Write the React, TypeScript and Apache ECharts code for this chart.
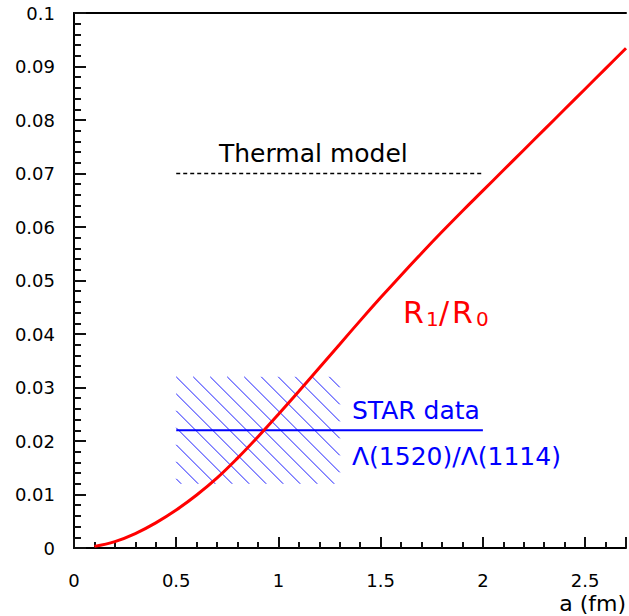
import React, { useEffect, useRef } from "react";
import * as echarts from "echarts";

// ---- data ----
const A_VALUES = [
  0.1, 0.2, 0.3, 0.4, 0.5, 0.6, 0.7, 0.8, 0.9, 1.0, 1.1, 1.2, 1.3, 1.4,
  1.5, 1.6, 1.7, 1.8, 1.9, 2.0, 2.1, 2.2, 2.3, 2.4, 2.5, 2.6, 2.7,
];
const R1_R0 = [
  0.0003, 0.0012, 0.0027, 0.0047, 0.0071, 0.0099, 0.0131, 0.0168, 0.0208,
  0.025, 0.0293, 0.0337, 0.0381, 0.0425, 0.0468, 0.051, 0.0551, 0.0591,
  0.063, 0.0668, 0.0706, 0.0744, 0.0782, 0.082, 0.0858, 0.0896, 0.0934,
];
const THERMAL_X = [0.5, 2.0];
const THERMAL_Y = 0.07;
const STAR_X = [0.5, 2.0];
const STAR_Y = 0.022;
const STAR_BAND_X = [0.5, 1.3];
const STAR_BAND_Y = [0.012, 0.032];

const X_MIN = 0;
const X_MAX = 2.7;
const X_MAJOR = 0.5;
const Y_MIN = 0;
const Y_MAX = 0.1;
const Y_MAJOR = 0.01;

const FONT = "DejaVu Sans";
const BLUE = "#0000ff";
const RED = "#ff0000";

export default function App() {
  const ref = useRef<HTMLDivElement>(null);

  useEffect(() => {
    document.body.style.margin = "0";
    const chart = echarts.init(ref.current!, null, { renderer: "svg" });

    const hatchRender = (params: any, api: any) => {
      const tl = api.coord([api.value(0), api.value(3)]);
      const br = api.coord([api.value(1), api.value(2)]);
      const x0 = tl[0], y0 = tl[1], x1 = br[0], y1 = br[1];
      const step = 17;
      const base = y0 - x0;
      const children: any[] = [];
      const cMin = y0 - x1;
      const cMax = y1 - x0;
      const kMin = Math.ceil((cMin - base) / step);
      const kMax = Math.floor((cMax - base) / step);
      for (let k = kMin; k <= kMax; k++) {
        const c = base + k * step;
        const xs = Math.max(x0, y0 - c);
        const xe = Math.min(x1, y1 - c);
        if (xe - xs < 1) continue;
        children.push({
          type: "line",
          shape: { x1: xs, y1: xs + c, x2: xe, y2: xe + c },
          style: { stroke: "#1f1fff", lineWidth: 1 },
        });
      }
      return { type: "group", children };
    };

    const tickStyle = { color: "#111", width: 2 };

    const option: any = {
      animation: false,
      grid: { left: 74, right: 0, top: 13, bottom: 68 },
      xAxis: [
        {
          type: "value",
          min: X_MIN,
          max: X_MAX,
          interval: X_MAJOR,
          axisLine: { show: true, onZero: false, lineStyle: { color: "#000", width: 2 } },
          axisTick: { show: true, inside: true, length: 11, lineStyle: tickStyle },
          minorTick: { show: true, splitNumber: 5, length: 6, lineStyle: tickStyle },
          splitLine: { show: false },
          axisLabel: {
            margin: 23,
            fontFamily: FONT,
            fontSize: 18,
            color: "#000",
            formatter: (v: number) => {
              const r = Math.round(v * 10) / 10;
              if (Math.abs(r * 2 - Math.round(r * 2)) > 1e-6) return "";
              return String(r);
            },
          },
        },
        {
          type: "value",
          position: "top",
          min: X_MIN,
          max: X_MAX,
          interval: X_MAJOR,
          axisLine: { show: true, onZero: false, lineStyle: { color: "#000", width: 2 } },
          axisTick: { show: false },
          minorTick: { show: false },
          axisLabel: { show: false },
          splitLine: { show: false },
        },
      ],
      yAxis: {
        type: "value",
        min: Y_MIN,
        max: Y_MAX,
        interval: Y_MAJOR,
        axisLine: { show: true, onZero: false, lineStyle: { color: "#000", width: 2 } },
        axisTick: { show: true, inside: true, length: 12, lineStyle: tickStyle },
        minorTick: { show: true, splitNumber: 5, length: 7, lineStyle: tickStyle },
        splitLine: { show: false },
        axisLabel: {
          margin: 19,
          fontFamily: FONT,
          fontSize: 18,
          color: "#000",
          formatter: (v: number) => String(Math.round(v * 1000) / 1000),
        },
      },
      series: [
        {
          type: "custom",
          silent: true,
          renderItem: hatchRender,
          encode: { x: [0, 1], y: [2, 3] },
          data: [[STAR_BAND_X[0], STAR_BAND_X[1], STAR_BAND_Y[0], STAR_BAND_Y[1]]],
          z: 1,
        },
        {
          type: "line",
          silent: true,
          symbol: "none",
          data: STAR_X.map((x) => [x, STAR_Y]),
          lineStyle: { color: BLUE, width: 2 },
          z: 2,
        },
        {
          type: "line",
          silent: true,
          symbol: "none",
          data: THERMAL_X.map((x) => [x, THERMAL_Y]),
          lineStyle: { color: "#000", width: 1.5, type: [4, 3] },
          z: 2,
        },
        {
          type: "line",
          silent: true,
          symbol: "none",
          smooth: 0.4,
          data: A_VALUES.map((x, i) => [x, R1_R0[i]]),
          lineStyle: { color: RED, width: 3 },
          z: 3,
        },
      ],
      graphic: [
        {
          type: "text",
          x: 219,
          y: 153,
          style: { text: "Thermal model", fontFamily: FONT, fontSize: 25, fill: "#000", verticalAlign: "middle" },
        },
        { type: "text", x: 403, y: 312, style: { text: "R", fontFamily: FONT, fontSize: 30, fill: RED, verticalAlign: "middle" } },
        { type: "text", x: 426, y: 319, style: { text: "1", fontFamily: FONT, fontSize: 20, fill: RED, verticalAlign: "middle" } },
        { type: "text", x: 439, y: 312, style: { text: "/", fontFamily: FONT, fontSize: 30, fill: RED, verticalAlign: "middle" } },
        { type: "text", x: 452, y: 312, style: { text: "R", fontFamily: FONT, fontSize: 30, fill: RED, verticalAlign: "middle" } },
        { type: "text", x: 476, y: 319, style: { text: "0", fontFamily: FONT, fontSize: 20, fill: RED, verticalAlign: "middle" } },
        {
          type: "text",
          x: 352,
          y: 410,
          style: { text: "STAR data", fontFamily: FONT, fontSize: 25, fill: BLUE, verticalAlign: "middle" },
        },
        {
          type: "text",
          x: 352,
          y: 456,
          style: { text: "Λ(1520)/Λ(1114)", fontFamily: FONT, fontSize: 25, fill: BLUE, verticalAlign: "middle" },
        },
        {
          type: "text",
          x: 626,
          y: 603,
          style: { text: "a (fm)", fontFamily: FONT, fontSize: 22, fill: "#000", align: "right", verticalAlign: "middle" },
        },
      ],
    };

    chart.setOption(option);
    return () => chart.dispose();
  }, []);

  return <div ref={ref} style={{ width: 629, height: 616 }} />;
}
